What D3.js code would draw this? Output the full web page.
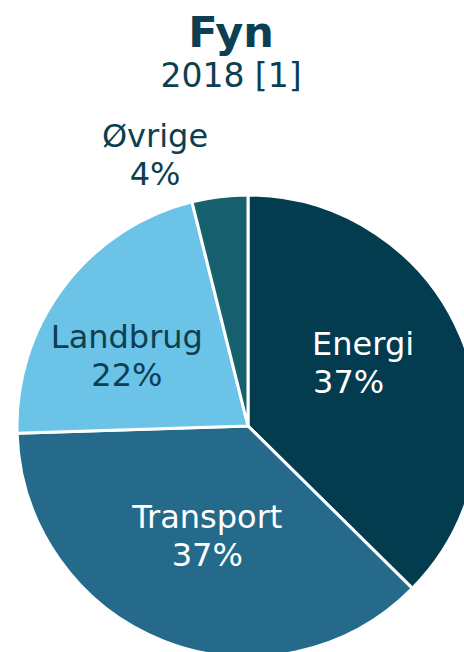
<!DOCTYPE html>
<html>
<head>
<meta charset="utf-8">
<script src="https://cdn.jsdelivr.net/npm/d3@7"></script>
<style>
  body { margin: 0; background: #fff; }
  svg { display: block; font-family: "DejaVu Sans", Verdana, sans-serif; }
</style>
</head>
<body>
<div id="chart"></div>
<script>
// data
let categories = ["Energi", "Transport", "Landbrug", "Øvrige"];
let values = [37.4, 37.1, 21.6, 3.9];
let labels = ["37%", "37%", "22%", "4%"];
let colors = ["#033b4f", "#256a8b", "#6bc3e7", "#17616f"];
let textColors = ["#ffffff", "#ffffff", "#0c3f52", "#0c3f52"];

let width = 464, height = 652;
let cx = 248, cy = 426, radius = 231;

let svg = d3.select("#chart").append("svg")
  .attr("width", width)
  .attr("height", height);

// title
svg.append("text")
  .attr("x", 231).attr("y", 47)
  .attr("text-anchor", "middle")
  .style("font-size", "43px").style("font-weight", "bold")
  .style("fill", "#0c3f52")
  .text("Fyn");

svg.append("text")
  .attr("x", 231).attr("y", 87)
  .attr("text-anchor", "middle")
  .style("font-size", "33px")
  .style("fill", "#0c3f52")
  .text("2018 [1]");

let slices = categories.map(function (c, i) {
  return {name: c, value: values[i], label: labels[i], color: colors[i], text: textColors[i]};
});

let pie = d3.pie().sort(null).value(function (d) { return d.value; });
let arc = d3.arc().innerRadius(0).outerRadius(radius);
let labelArc = d3.arc().innerRadius(128).outerRadius(128);

let g = svg.append("g")
  .attr("transform", "translate(" + cx + "," + cy + ")");

let arcs = pie(slices);

g.selectAll("path.slice")
  .data(arcs)
  .enter().append("path")
  .attr("class", "slice")
  .attr("d", arc)
  .style("fill", function (d) { return d.data.color; })
  .style("stroke", "#fff")
  .style("stroke-width", 3)
  .style("stroke-linejoin", "round");

// label nudges from the centroid; the small slice gets its label outside
let shift = {
  "Energi": [-54, -22, "start"],
  "Transport": [6, -17, "middle"],
  "Landbrug": [-19, -1, "middle"],
  "Øvrige": [0, 0, "middle"]
};

let lbl = g.selectAll("text.lbl")
  .data(arcs)
  .enter().append("text")
  .attr("class", "lbl")
  .attr("text-anchor", function (d) { return shift[d.data.name][2]; })
  .style("font-size", "32px")
  .style("fill", function (d) { return d.data.text; })
  .attr("transform", function (d) {
    let p;
    if (d.data.name === "Øvrige") {
      p = [-93, -279];
    } else {
      p = labelArc.centroid(d);
    }
    let s = shift[d.data.name];
    return "translate(" + (p[0] + s[0]) + "," + (p[1] + s[1]) + ")";
  });

lbl.append("tspan")
  .attr("x", 0).attr("dy", 0)
  .text(function (d) { return d.data.name; });

lbl.append("tspan")
  .attr("x", function (d) { return d.data.name === "Energi" ? 1 : 0; })
  .attr("dy", 38)
  .text(function (d) { return d.data.label; });
</script>
</body>
</html>
